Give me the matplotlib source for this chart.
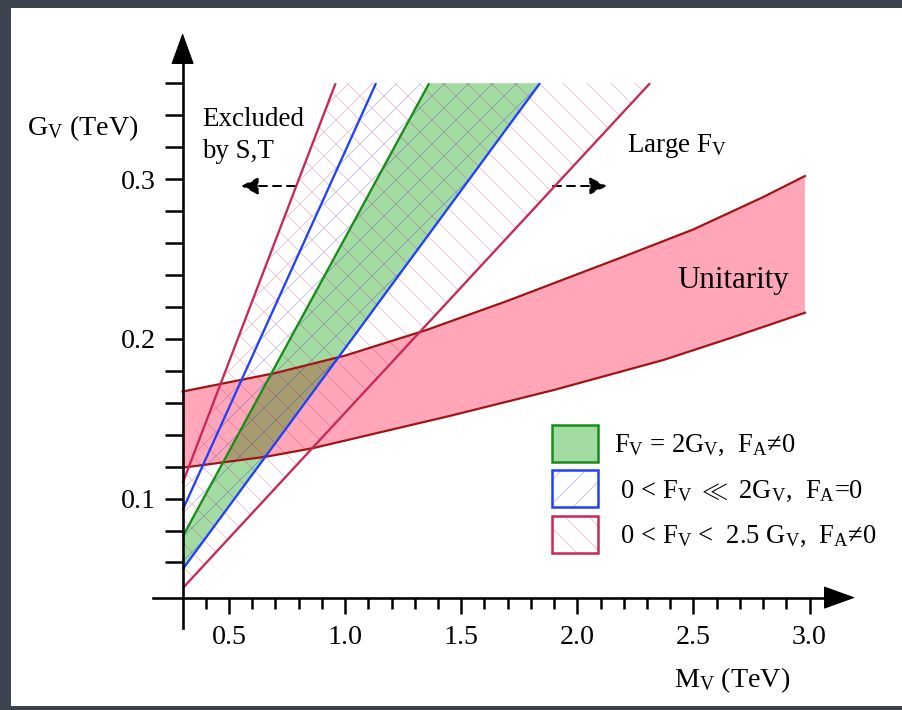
import matplotlib
matplotlib.use("Agg")
import matplotlib.pyplot as plt
from matplotlib.colors import to_rgb
from matplotlib.patches import Patch, Polygon, Rectangle

plt.rcParams["font.family"] = ["Liberation Serif", "DejaVu Serif", "DejaVu Sans"]
plt.rcParams["mathtext.fontset"] = "custom"
plt.rcParams["mathtext.rm"] = "Liberation Serif"
plt.rcParams["mathtext.it"] = "Liberation Serif:italic"
plt.rcParams["hatch.linewidth"] = 1.0

# straight boundaries G_V ~ k M_V, read at M_V = 0.3 and where they hit G_V = 0.36
M_START = 0.3
G_TOP = 0.36
line_names = ["crimson_left", "blue_left", "green", "blue_right", "crimson_right"]
line_g_start = [0.1097, 0.0928, 0.0761, 0.0557, 0.0438]
line_m_top = [0.959, 1.133, 1.362, 1.839, 2.313]

# unitarity band edges
unit_upper_m = [0.3, 0.7, 1.0, 1.35, 1.7, 2.2, 2.5, 2.8, 2.98]
unit_upper_g = [0.167, 0.1786, 0.1895, 0.2055, 0.2238, 0.2515, 0.2685, 0.2887, 0.3019]
unit_lower_m = [0.3, 0.66, 0.86, 1.45, 1.9, 2.37, 2.66, 2.98]
unit_lower_g = [0.1193, 0.1262, 0.1315, 0.1517, 0.168, 0.1867, 0.2005, 0.2163]

x_major = [0.5, 1.0, 1.5, 2.0, 2.5, 3.0]
x_minor = [0.4, 0.6, 0.7, 0.8, 0.9, 1.1, 1.2, 1.3, 1.4, 1.6, 1.7, 1.8, 1.9,
           2.1, 2.2, 2.3, 2.4, 2.6, 2.7, 2.8, 2.9]
y_major = [0.1, 0.2, 0.3]
y_minor = [0.06, 0.08, 0.12, 0.14, 0.16, 0.18, 0.22, 0.24, 0.26, 0.28, 0.32, 0.34, 0.36]

legend_labels = [
    r"F$_{\rm V}$ = 2G$_{\rm V}$,  F$_{\rm A}$≠0",
    r" 0 < F$_{\rm V}$ ${\ll}$ 2G$_{\rm V}$,  F$_{\rm A}$=0",
    r" 0 < F$_{\rm V}$ <  2.5 G$_{\rm V}$,  F$_{\rm A}$≠0",
]

# colours
BG = "#3c424e"
CRIMSON = "#c82858"
BLUE = "#2040ff"
GREEN = "#1a8c1a"
GREEN_FILL = "#a3dca3"
PINK_FILL = "#ffa6b9"
UNIT_EDGE = "#a01414"
OVERLAP = "#a69c70"
PINK_HATCH = "#f0c6d4"
BLUE_HATCH = "#c6c6ee"

# pixel calibration of the picture
W, H = 902, 710
PX_M03, PX_PER_M = 182.6, 232.2
PY_G02, PY_PER_G = 338.8, 1597.5
X_AXIS_G = 0.038


def fig_xy(px, py):
    return (px / W, 1 - py / H)


def g_of(py):
    return 0.2 + (PY_G02 - py) / PY_PER_G


def m_of(px):
    return 0.3 + (px - PX_M03) / PX_PER_M


def multiply(c1, c2):
    a, b = to_rgb(c1), to_rgb(c2)
    return tuple(x * y for x, y in zip(a, b))


fig = plt.figure(figsize=(W / 72, H / 72), dpi=72, facecolor=BG)
fig.add_artist(Rectangle(fig_xy(11, 706), (W - 11) / W, (706 - 8) / H,
                         transform=fig.transFigure, fc="white", ec="none", zorder=-10))

ax = fig.add_axes([0, 0, 1, 1])
ax.patch.set_visible(False)
ax.set_xlim(m_of(0), m_of(W))
ax.set_ylim(g_of(H), g_of(0))

lines = {n: (g0, mt) for n, g0, mt in zip(line_names, line_g_start, line_m_top)}


def band(left, right):
    gl, ml = lines[left]
    gr, mr = lines[right]
    return [(M_START, gl), (ml, G_TOP), (mr, G_TOP), (M_START, gr)]


unit_pts = list(zip(unit_upper_m, unit_upper_g)) + list(zip(unit_lower_m, unit_lower_g))[::-1]
green_pts = band("green", "blue_right")

unit_patch = Polygon(unit_pts, closed=True, fc=PINK_FILL, ec="none", zorder=1)
ax.add_patch(unit_patch)
green_patch = Polygon(green_pts, closed=True, fc=GREEN_FILL, ec="none", zorder=1)
ax.add_patch(green_patch)
overlap = Polygon(green_pts, closed=True, fc=OVERLAP, ec="none", zorder=2)
ax.add_patch(overlap)
overlap.set_clip_path(unit_patch)

# hatching, coloured as if multiplied onto what lies beneath
hatch_bands = [
    (band("crimson_left", "crimson_right"), "\\", PINK_HATCH, True),
    (band("crimson_left", "blue_left"), "/", PINK_HATCH, False),
    (band("blue_left", "blue_right"), "/", BLUE_HATCH, True),
]
for pts, hatch, col, covers_green in hatch_bands:
    ax.add_patch(Polygon(pts, closed=True, fc="none", ec=col, lw=0, hatch=hatch, zorder=3))
    p = Polygon(pts, closed=True, fc="none", ec=multiply(col, PINK_FILL), lw=0,
                hatch=hatch, zorder=3.1)
    ax.add_patch(p)
    p.set_clip_path(unit_patch)
    if covers_green:
        ax.add_patch(Polygon(green_pts, closed=True, fc="none", ec=multiply(col, GREEN_FILL),
                             lw=0, hatch=hatch, zorder=3.2))
        p = Polygon(unit_pts, closed=True, fc="none", ec=multiply(col, OVERLAP), lw=0,
                    hatch=hatch, zorder=3.3)
        ax.add_patch(p)
        p.set_clip_path(green_patch)

ax.plot(unit_upper_m, unit_upper_g, color=UNIT_EDGE, lw=2.2, zorder=4)
ax.plot(unit_lower_m, unit_lower_g, color=UNIT_EDGE, lw=2.2, zorder=4)

line_colors = {"crimson_left": CRIMSON, "blue_left": BLUE, "green": GREEN,
               "blue_right": BLUE, "crimson_right": CRIMSON}
for n in line_names:
    g0, mt = lines[n]
    ax.plot([M_START, mt], [g0, G_TOP], color=line_colors[n], lw=2.3, zorder=5,
            solid_capstyle="butt")

# axes with arrows
for s in ["top", "right"]:
    ax.spines[s].set_visible(False)
ax.spines["left"].set_position(("data", M_START))
ax.spines["bottom"].set_position(("data", X_AXIS_G))
ax.spines["left"].set_bounds(g_of(628), g_of(62))
ax.spines["bottom"].set_bounds(m_of(153), m_of(826))
for s in ["left", "bottom"]:
    ax.spines[s].set_linewidth(2.6)
    ax.spines[s].set_zorder(6)

arrow_kw = dict(arrowstyle="-|>,head_length=2.9,head_width=1.05", mutation_scale=10,
                fc="k", ec="k", lw=1, shrinkA=0, shrinkB=0)
ax.annotate("", xy=(M_START, g_of(33)), xytext=(M_START, g_of(62)),
            arrowprops=arrow_kw, annotation_clip=False)
ax.annotate("", xy=(m_of(855), X_AXIS_G), xytext=(m_of(826), X_AXIS_G),
            arrowprops=arrow_kw, annotation_clip=False)

ax.set_xticks(x_major)
ax.set_xticklabels([f"{v:.1f}" for v in x_major])
ax.set_xticks(x_minor, minor=True)
ax.set_yticks(y_major)
ax.set_yticklabels([f"{v:.1f}" for v in y_major])
ax.set_yticks(y_minor, minor=True)
ax.tick_params(axis="x", which="major", direction="out", length=16, width=2.5, pad=11, labelsize=28)
ax.tick_params(axis="x", which="minor", direction="out", length=11, width=2.5)
ax.tick_params(axis="y", which="both", direction="out", length=18, width=2.5, pad=9, labelsize=28)

# texts
fig.text(*fig_xy(27, 135), r"G$_{\rm V}$ (TeV)", fontsize=28, ha="left", va="baseline")
fig.text(*fig_xy(732, 680), r"M$_{\rm V}$ (TeV)", fontsize=28, ha="center", va="center")
fig.text(*fig_xy(202, 126), "Excluded", fontsize=27, ha="left", va="baseline")
fig.text(*fig_xy(202, 158), "by S,T", fontsize=27, ha="left", va="baseline")
fig.text(*fig_xy(627, 152), r"Large F$_{\rm V}$", fontsize=27, ha="left", va="baseline")
fig.text(*fig_xy(677, 288), "Unitarity", fontsize=31, ha="left", va="baseline")

dash_kw = dict(arrowstyle="-|>,head_length=0.8,head_width=0.4", mutation_scale=18,
               lw=2, ls=(0, (4, 3)), color="k", shrinkA=0, shrinkB=0)
ax.annotate("", xy=fig_xy(241, 186), xycoords="figure fraction",
            xytext=fig_xy(295, 186), textcoords="figure fraction", arrowprops=dash_kw)
ax.annotate("", xy=fig_xy(607, 186), xycoords="figure fraction",
            xytext=fig_xy(553, 186), textcoords="figure fraction", arrowprops=dash_kw)

# legend
LEG_FS = 26.5
handles = [
    Patch(fc=GREEN_FILL, ec=GREEN, lw=2.5),
    (Patch(fc="white", ec=BLUE_HATCH, lw=0, hatch="/"), Patch(fc="none", ec=BLUE, lw=2.5)),
    (Patch(fc="white", ec=PINK_HATCH, lw=0, hatch="\\"), Patch(fc="none", ec=CRIMSON, lw=2.5)),
]
ax.legend(handles, legend_labels, loc="upper left", bbox_to_anchor=fig_xy(552, 425),
          bbox_transform=fig.transFigure, frameon=False, fontsize=LEG_FS,
          handlelength=46 / LEG_FS, handleheight=1.77, handletextpad=0.62,
          labelspacing=0.32, borderpad=0, borderaxespad=0)

fig.savefig("out.png", dpi=72, facecolor=fig.get_facecolor())
